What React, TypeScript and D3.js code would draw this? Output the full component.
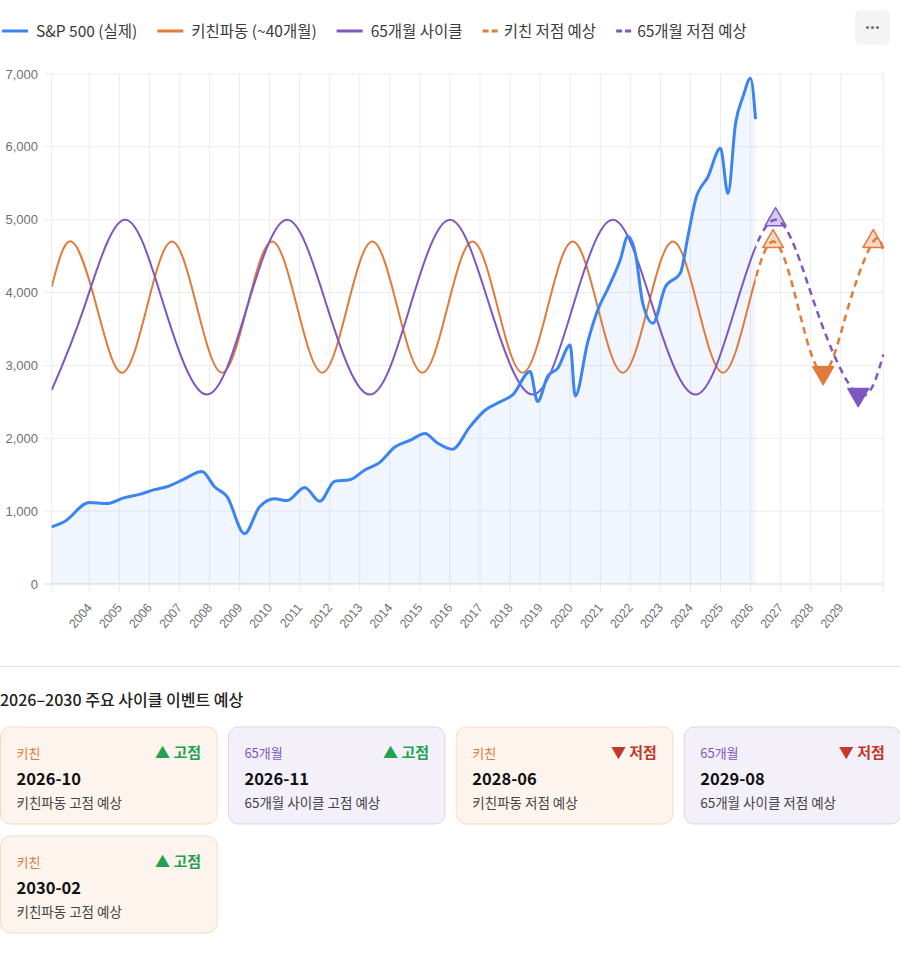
import React from 'react';
import * as d3 from 'd3';

document.body.style.margin = '0';

// S&P 500 actual (month, value)
const spxDates = [
  '2002-10', '2003-03', '2004-01', '2004-08', '2005-03', '2005-09', '2006-03', '2006-08',
  '2007-02', '2007-10', '2008-03', '2008-08', '2009-03', '2009-09', '2010-03', '2010-08',
  '2011-03', '2011-09', '2012-03', '2012-09', '2013-03', '2013-09', '2014-03', '2014-09',
  '2015-03', '2015-08', '2016-02', '2016-09', '2017-03', '2017-09', '2018-02', '2018-09',
  '2018-12', '2019-04', '2019-08', '2020-01', '2020-03', '2020-08', '2020-12', '2021-04',
  '2021-09', '2021-12', '2022-03', '2022-06', '2022-10', '2023-03', '2023-09', '2023-12',
  '2024-03', '2024-08', '2025-01', '2025-04', '2025-07', '2025-10', '2026-01', '2026-03',
];
const spxValues = [
  785, 855, 1120, 1105, 1185, 1230, 1295, 1335,
  1425, 1545, 1335, 1200, 690, 1060, 1170, 1145,
  1325, 1135, 1410, 1430, 1565, 1670, 1880, 1970,
  2065, 1935, 1850, 2160, 2385, 2500, 2595, 2915,
  2505, 2850, 2960, 3280, 2580, 3320, 3760, 4050,
  4450, 4770, 4540, 3850, 3580, 4080, 4270, 4770,
  5270, 5590, 5980, 5360, 6320, 6690, 6940, 6380,
];

// Kitchin wave (~40 months): turning points and mid crossings
const kitchinDates = [
  '2002-10', '2003-06', '2004-04', '2005-02', '2005-12', '2006-10', '2007-08', '2008-06',
  '2009-04', '2010-02', '2010-12', '2011-10', '2012-08', '2013-06', '2014-04', '2015-02',
  '2015-12', '2016-10', '2017-08', '2018-06', '2019-04', '2020-02', '2020-12', '2021-10',
  '2022-08', '2023-06', '2024-04', '2025-02', '2025-12', '2026-10', '2027-08', '2028-06',
  '2029-04', '2030-02', '2030-06',
];
const kitchinValues = [
  4080, 4700, 3800, 2900, 3800, 4700, 3800, 2900,
  3800, 4700, 3800, 2900, 3800, 4700, 3800, 2900,
  3800, 4700, 3800, 2900, 3800, 4700, 3800, 2900,
  3800, 4700, 3800, 2900, 3800, 4700, 3800, 2900,
  3800, 4700, 4560,
];

// 65-month cycle
const cycle65Dates = [
  '2002-10', '2003-11', '2005-03', '2006-07', '2007-12', '2009-04', '2010-08', '2011-12',
  '2013-05', '2014-09', '2016-01', '2017-05', '2018-10', '2020-02', '2021-06', '2022-10',
  '2024-03', '2025-07', '2026-11', '2028-03', '2029-08', '2030-06',
];
const cycle65Values = [
  2660, 3800, 5000, 3800, 2600, 3800, 5000, 3800,
  2600, 3800, 5000, 3800, 2600, 3800, 5000, 3800,
  2600, 3800, 5000, 3800, 2600, 3150,
];

const axisStart = '2002-10';
const axisEnd = '2030-06';
const actualEnd = '2026-03';
const yearTicks = d3.range(2004, 2030).map(String);
const yTicks = [0, 1000, 2000, 3000, 4000, 5000, 6000, 7000];

// forecast events (cards + triangle markers)
const events = [
  { series: 'kitchin', label: '키친', date: '2026-10', kind: 'peak', value: 4700, desc: '키친파동 고점 예상' },
  { series: 'c65', label: '65개월', date: '2026-11', kind: 'peak', value: 5000, desc: '65개월 사이클 고점 예상' },
  { series: 'kitchin', label: '키친', date: '2028-06', kind: 'trough', value: 2900, desc: '키친파동 저점 예상' },
  { series: 'c65', label: '65개월', date: '2029-08', kind: 'trough', value: 2600, desc: '65개월 사이클 저점 예상' },
  { series: 'kitchin', label: '키친', date: '2030-02', kind: 'peak', value: 4700, desc: '키친파동 고점 예상' },
];

const legendItems = [
  { label: 'S&P 500 (실제)', color: '#3b84f2', dashed: false },
  { label: '키친파동 (~40개월)', color: '#e07b39', dashed: false },
  { label: '65개월 사이클', color: '#7e57c2', dashed: false },
  { label: '키친 저점 예상', color: '#e07b39', dashed: true },
  { label: '65개월 저점 예상', color: '#7e57c2', dashed: true },
];

const COLORS = {
  spx: '#3b84f2',
  kitchin: '#e07b39',
  c65: '#7e57c2',
  up: '#22a152',
  down: '#c0392b',
};

const FONT_KR = "'Noto Sans CJK KR', 'Noto Sans', sans-serif";
const FONT_AXIS = "'Liberation Sans', Arial, sans-serif";

const monthIdx = (s: string) => {
  const [y, m] = s.split('-').map(Number);
  return (y - 2002) * 12 + (m - 10);
};

const measure = (() => {
  const ctx = document.createElement('canvas').getContext('2d');
  return (text: string, font: string) => {
    if (!ctx) return text.length * 8;
    ctx.font = font;
    return ctx.measureText(text).width;
  };
})();

const triangle = (cx: number, cy: number, r: number, down: boolean) => {
  const s = down ? -1 : 1;
  const w = r * Math.sin((2 * Math.PI) / 3);
  const h = r * 0.5;
  return `M${cx},${cy - s * r}L${cx + w},${cy + s * h}L${cx - w},${cy + s * h}Z`;
};

const W = 900;
const H = 955;
const plot = { left: 51.7, right: 883.3, top: 74, bottom: 584 };

export default function App() {
  const x = d3.scaleLinear().domain([monthIdx(axisStart), monthIdx(axisEnd)]).range([plot.left, plot.right]);
  const y = d3.scaleLinear().domain([0, 7000]).range([plot.bottom, plot.top]);

  const spx = spxDates.map((d, i) => [monthIdx(d), spxValues[i]] as [number, number]);
  const kitchin = kitchinDates.map((d, i) => [monthIdx(d), kitchinValues[i]] as [number, number]);
  const c65 = cycle65Dates.map((d, i) => [monthIdx(d), cycle65Values[i]] as [number, number]);

  const spxLine = d3.line<[number, number]>().x(d => x(d[0])).y(d => y(d[1])).curve(d3.curveMonotoneX);
  const spxArea = d3.area<[number, number]>().x(d => x(d[0])).y0(y(0)).y1(d => y(d[1])).curve(d3.curveMonotoneX);
  const cycleLine = d3.line<[number, number]>().x(d => x(d[0])).y(d => y(d[1])).curve(d3.curveNatural);

  const splitX = x(monthIdx(actualEnd));

  // legend layout
  const legendSize = 15.5;
  const legendFont = `${legendSize}px ${FONT_KR}`;
  let cursor = 2;
  const legend = legendItems.map(item => {
    const iconW = item.dashed ? 15 : 26;
    const gap = item.dashed ? 6 : 8;
    const x0 = cursor;
    const tx = x0 + iconW + gap;
    const tw = measure(item.label, legendFont);
    cursor = tx + tw + 20;
    return { ...item, x0, iconW, tx };
  });

  // cards
  const cardW = 216.6;
  const cardH = 97;
  const cardGap = 11.3;
  const cardTop = 727;
  const cards = events.map((e, i) => {
    const col = i % 4;
    const row = Math.floor(i / 4);
    return { ...e, cx: 0.5 + col * (cardW + cardGap), cy: cardTop + row * (cardH + 12) };
  });

  return (
    <svg width={W} height={H} style={{ display: 'block' }} xmlns="http://www.w3.org/2000/svg">
      <defs>
        <clipPath id="clip-actual">
          <rect x={plot.left} y={0} width={splitX - plot.left} height={plot.bottom + 1} />
        </clipPath>
        <clipPath id="clip-forecast">
          <rect x={splitX} y={0} width={plot.right - splitX + 2} height={plot.bottom + 1} />
        </clipPath>
      </defs>

      {/* legend */}
      <g>
        {legend.map(l => (
          <g key={l.label}>
            <line
              x1={l.x0}
              x2={l.x0 + l.iconW}
              y1={31}
              y2={31}
              stroke={l.color}
              strokeWidth={3}
              strokeDasharray={l.dashed ? '6 3' : undefined}
            />
            <text x={l.tx} y={31} dy="0.36em" fontSize={legendSize} fontFamily={FONT_KR} fill="#3a3a3a">
              {l.label}
            </text>
          </g>
        ))}
        <rect x={855} y={10} width={35} height={35} rx={6} fill="#f4f4f5" />
        {[-5, 0, 5].map(dx => (
          <circle key={dx} cx={872.5 + dx} cy={27.5} r={1.6} fill="#777" />
        ))}
      </g>

      {/* grid */}
      <g>
        {yTicks.map(t => (
          <g key={t}>
            <line
              x1={plot.left - 8}
              x2={plot.right}
              y1={y(t)}
              y2={y(t)}
              stroke={t === 0 ? '#d3d7de' : '#ececee'}
              strokeWidth={1}
            />
            <text
              x={38}
              y={y(t)}
              dy="0.35em"
              textAnchor="end"
              fontSize={13}
              fontFamily={FONT_AXIS}
              fill="#707070"
            >
              {d3.format(',')(t)}
            </text>
          </g>
        ))}
        {[axisStart, ...yearTicks.map(yr => `${yr}-01`), axisEnd].map(d => (
          <line
            key={d}
            x1={x(monthIdx(d))}
            x2={x(monthIdx(d))}
            y1={plot.top}
            y2={plot.bottom + 8}
            stroke="#ececee"
            strokeWidth={1}
          />
        ))}
        {yearTicks.map(yr => {
          const tx = x(monthIdx(`${yr}-01`));
          return (
            <text
              key={yr}
              transform={`translate(${tx},${plot.bottom + 21}) rotate(-50)`}
              textAnchor="end"
              dy="0.35em"
              fontSize={12.5}
              fontFamily={FONT_AXIS}
              fill="#707070"
            >
              {yr}
            </text>
          );
        })}
      </g>

      {/* S&P 500 */}
      <path d={spxArea(spx) || ''} fill="rgba(59,130,246,0.08)" />

      {/* cycles: solid up to last actual month, dashed forecast after */}
      <g clipPath="url(#clip-actual)" fill="none" strokeWidth={2}>
        <path d={cycleLine(kitchin) || ''} stroke={COLORS.kitchin} />
        <path d={cycleLine(c65) || ''} stroke={COLORS.c65} />
      </g>
      <g clipPath="url(#clip-forecast)" fill="none" strokeWidth={2.5} strokeDasharray="7 5">
        <path d={cycleLine(kitchin) || ''} stroke={COLORS.kitchin} />
        <path d={cycleLine(c65) || ''} stroke={COLORS.c65} />
      </g>

      <path d={spxLine(spx) || ''} fill="none" stroke={COLORS.spx} strokeWidth={3} strokeLinejoin="round" />

      {/* turning point markers */}
      {events.map(e => {
        const c = e.series === 'kitchin' ? COLORS.kitchin : COLORS.c65;
        const down = e.kind === 'trough';
        return (
          <path
            key={e.series + e.date}
            d={triangle(x(monthIdx(e.date)), y(e.value), 12, down)}
            fill={c}
            fillOpacity={down ? 1 : 0.3}
            stroke={c}
            strokeWidth={1.5}
            strokeLinejoin="round"
          />
        );
      })}

      {/* events section */}
      <line x1={0} x2={W} y1={666.5} y2={666.5} stroke="#e0e0e0" />
      <text x={0} y={705.5} fontSize={16} fontWeight={500} fontFamily={FONT_KR} fill="#222">
        2026–2030 주요 사이클 이벤트 예상
      </text>
      {cards.map(c => {
        const isK = c.series === 'kitchin';
        const peak = c.kind === 'peak';
        return (
          <g key={c.series + c.date} transform={`translate(${c.cx},${c.cy})`} fontFamily={FONT_KR}>
            <rect
              width={cardW}
              height={cardH}
              rx={10}
              fill={isK ? '#fdf4ee' : '#f3f0fa'}
              stroke={isK ? '#f8dac6' : '#dcd3f1'}
            />
            <text x={16} y={30.5} fontSize={13} fill={isK ? COLORS.kitchin : COLORS.c65}>
              {c.label}
            </text>
            <text
              x={cardW - 16}
              y={31}
              fontSize={15}
              fontWeight={600}
              textAnchor="end"
              fill={peak ? COLORS.up : COLORS.down}
            >
              {peak ? '▲ 고점' : '▼ 저점'}
            </text>
            <text x={16} y={58} fontSize={16.5} fontWeight={600} fill="#111">
              {c.date}
            </text>
            <text x={16} y={80.5} fontSize={13.5} fill="#444">
              {c.desc}
            </text>
          </g>
        );
      })}
    </svg>
  );
}
